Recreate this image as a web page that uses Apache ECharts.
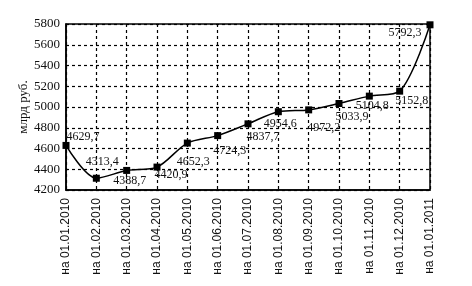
<!DOCTYPE html>
<html><head><meta charset="utf-8">
<script src="https://cdn.jsdelivr.net/npm/echarts@6/dist/echarts.min.js"></script>
<style>html,body{margin:0;padding:0;background:#fff}#c{width:472px;height:286px}</style>
</head><body><div id="c"></div>
<script>
const categories = ['на 01.01.2010','на 01.02.2010','на 01.03.2010','на 01.04.2010','на 01.05.2010','на 01.06.2010','на 01.07.2010','на 01.08.2010','на 01.09.2010','на 01.10.2010','на 01.11.2010','на 01.12.2010','на 01.01.2011'];
const values = [4629.7, 4313.4, 4388.7, 4420.9, 4652.3, 4724.3, 4837.7, 4954.6, 4972.2, 5033.9, 5104.8, 5152.8, 5792.3];
const labelOffsets = [[17,-9],[6,-16],[3,10],[14,8],[6,19],[12,15],[15,13],[2,12],[15,18],[13,13],[3,10],[12,10],[-25,8]];
const yTicks = [4200, 5800, 200];

const chart = echarts.init(document.getElementById('c'));
chart.setOption({
  animation: false,
  backgroundColor: '#fff',
  grid: {left: 66, right: 42, top: 24, bottom: 96, show: true, borderColor: '#000', borderWidth: 1.5},
  xAxis: {
    type: 'category', data: categories, boundaryGap: false,
    axisLine: {lineStyle: {color: '#000', width: 1.5}},
    axisTick: {show: false},
    axisLabel: {rotate: 90, color: '#111', fontFamily: 'Liberation Sans', fontSize: 12, margin: 8, interval: 0},
    splitLine: {show: true, lineStyle: {color: '#000', type: [3, 3], width: 1.2}}
  },
  yAxis: {
    type: 'value', min: yTicks[0], max: yTicks[1], interval: yTicks[2],
    name: 'млрд руб.', nameLocation: 'middle', nameRotate: 90, nameGap: 36,
    nameMoveOverlap: false,
    nameTextStyle: {fontFamily: 'Liberation Serif', fontSize: 13, color: '#111'},
    axisLine: {show: true, lineStyle: {color: '#000', width: 1.5}},
    axisTick: {show: false},
    axisLabel: {color: '#111', fontFamily: 'Liberation Serif', fontSize: 13, margin: 6, formatter: v => String(v)},
    splitLine: {show: true, lineStyle: {color: '#000', type: [3, 3], width: 1.2}}
  },
  series: [{
    type: 'line', smooth: 0.3,
    symbol: 'rect', symbolSize: 7,
    lineStyle: {color: '#000', width: 1.5},
    itemStyle: {color: '#000'},
    data: values.map((v, i) => ({
      value: v,
      label: {show: true, position: 'inside', offset: labelOffsets[i],
        formatter: () => v.toFixed(1).replace('.', ','),
        fontFamily: 'Liberation Serif', fontSize: 12, color: '#111'}
    }))
  }]
});
</script></body></html>
